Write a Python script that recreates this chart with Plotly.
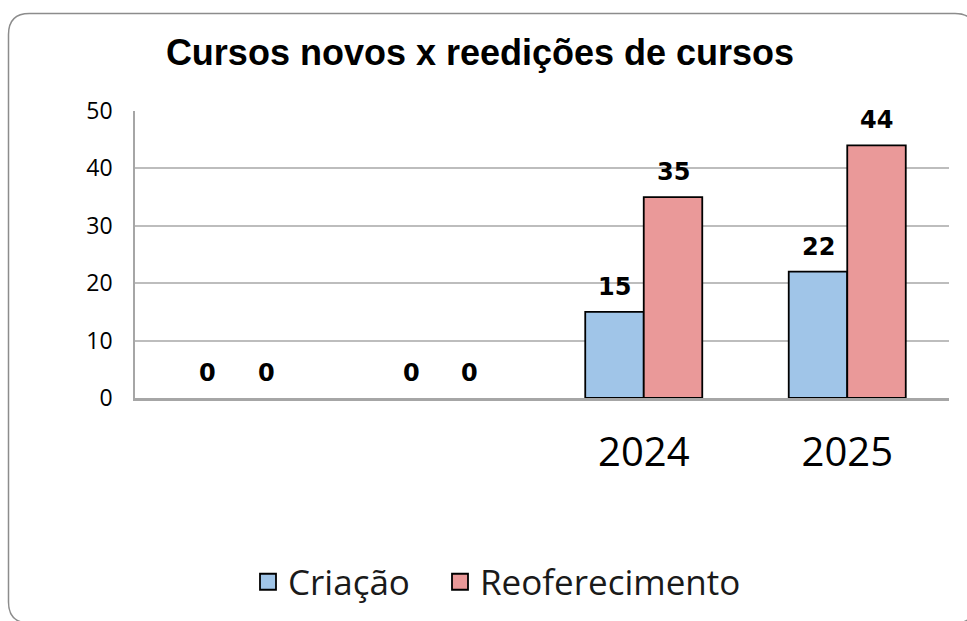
import plotly.graph_objects as go

# ---- data ----
categories = ["", "", "2024", "2025"]
criacao = [0, 0, 15, 22]
reoferecimento = [0, 0, 35, 44]
series_names = ["Criação", "Reoferecimento"]
title_text = "Cursos novos x reedições de cursos"
y_ticks = [0, 10, 20, 30, 40, 50]

# ---- styles ----
W, H = 967, 621
L, R, T, B = 135, 949, 111, 398  # plot area in pixels
blue = "#A0C5E8"
red = "#EA9999"
bargap = 0.425

x_pos = list(range(len(categories)))
bar_w = (1 - bargap) / 2


def px(x):
    return (x - L) / (R - L)


def py(y):
    return (B - y) / (B - T)


fig = go.Figure()
legend_specs = [(series_names[0], criacao, blue, -1, "legend"),
                (series_names[1], reoferecimento, red, 1, "legend2")]
for name, vals, col, off, leg in legend_specs:
    fig.add_trace(go.Bar(
        x=x_pos, y=vals, name=name,
        marker=dict(color=col, line=dict(color="black", width=[0 if v == 0 else 1.8 for v in vals])),
        showlegend=False, hoverinfo="skip"))
    # legend proxy
    fig.add_trace(go.Scatter(
        x=[None], y=[None], mode="markers", name=name, legend=leg,
        marker=dict(symbol="square", size=21, color=col, line=dict(color="black", width=1.8))))
    for xi, v in zip(x_pos, vals):
        fig.add_annotation(x=xi + off * bar_w / 2, y=v, xref="x", yref="y",
                           text=f"<b>{v}</b>", showarrow=False, yanchor="bottom", yshift=9,
                           font=dict(family="DejaVu Sans", size=24, color="black"))

# rounded outer border (pixel coordinates converted to paper coords)
x0, y0, x1, y1, r = 8.5, 13.5, 976, 623, 21
path = (f"M {px(x0)},{py(y0 + r)} Q {px(x0)},{py(y0)} {px(x0 + r)},{py(y0)} "
        f"L {px(x1 - r)},{py(y0)} Q {px(x1)},{py(y0)} {px(x1)},{py(y0 + r)} "
        f"L {px(x1)},{py(y1 - r)} Q {px(x1)},{py(y1)} {px(x1 - r)},{py(y1)} "
        f"L {px(x0 + r)},{py(y1)} Q {px(x0)},{py(y1)} {px(x0)},{py(y1 - r)} Z")
fig.add_shape(type="path", path=path, xref="paper", yref="paper",
              line=dict(color="#8c8c8c", width=1.5), fillcolor="rgba(0,0,0,0)", layer="below")

legend_common = dict(orientation="h", yanchor="middle", y=py(582), xanchor="left",
                     itemsizing="trace", font=dict(family="Open Sans", size=35, color="#1a1a1a"),
                     bgcolor="rgba(0,0,0,0)", itemclick=False, itemdoubleclick=False)

fig.update_layout(
    width=W, height=H,
    margin=dict(l=L, r=W - R, t=T, b=H - B, autoexpand=False),
    paper_bgcolor="white", plot_bgcolor="white",
    barmode="group", bargap=bargap, bargroupgap=0,
    title=dict(text=f"<b>{title_text}</b>", x=480 / W, xanchor="center", xref="container",
               y=1 - 40 / H, yanchor="top", yref="container",
               font=dict(family="Liberation Sans, Arial", size=36, color="black")),
    xaxis=dict(range=[-0.5, len(categories) - 0.5], tickvals=x_pos, ticktext=categories,
               showgrid=False, zeroline=False, showline=True, linecolor="#a6a6a6", linewidth=2.5,
               ticks="", ticklabelstandoff=17,
               tickfont=dict(family="Open Sans", size=40, color="black"), fixedrange=True),
    yaxis=dict(range=[0, 50], tickvals=y_ticks, showgrid=True, gridcolor="#bdbdbd", gridwidth=1.5,
               zeroline=False, showline=True, linecolor="#a6a6a6", linewidth=1.5,
               ticks="", ticklabelstandoff=16,
               tickfont=dict(family="Open Sans", size=23, color="black"), fixedrange=True),
    legend=dict(x=px(248), **legend_common),
    legend2=dict(x=px(440), **legend_common),
    showlegend=True,
)

fig.write_html("out.html", config={"displayModeBar": False},
               post_script="document.body.style.margin='0';")
